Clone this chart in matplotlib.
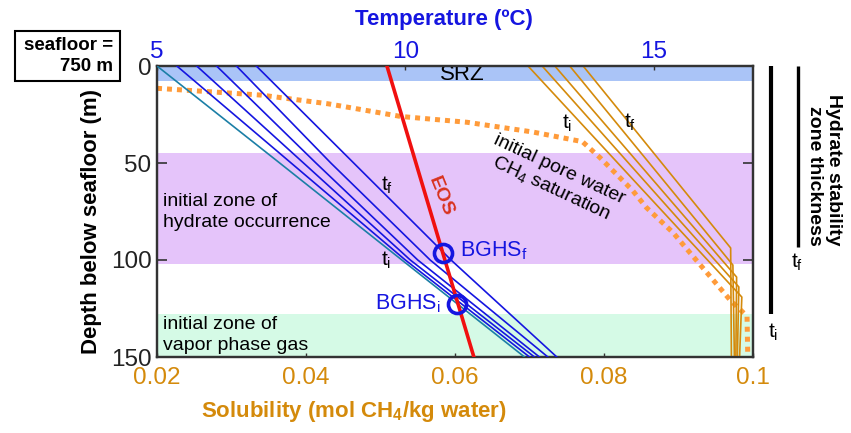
import matplotlib
matplotlib.use('Agg')
import matplotlib.pyplot as plt
from matplotlib.patches import Rectangle

plt.rcParams['font.family'] = ['Liberation Sans', 'DejaVu Sans']
plt.rcParams['mathtext.fontset'] = 'custom'
plt.rcParams['mathtext.rm'] = 'Liberation Sans'
plt.rcParams['mathtext.it'] = 'Liberation Sans:italic'
plt.rcParams['mathtext.bf'] = 'Liberation Sans:bold'

ORANGE = '#d48a0b'
DOT_ORANGE = '#ff9b3a'
BLUE = '#1515e0'
TEAL = '#1b7fa6'
RED = '#f01010'

# ---- data ----
# depth zones (m below seafloor)
srz_zone = (0, 7.8)
hydrate_zone = (45, 102)
vapor_zone = (128, 150)

# temperature profiles (degC) at these depths, t_i first, t_f last
temp_depth = [0, 50, 100, 150]
temp_profiles = [
    [5.0, 7.47, 9.93, 12.40],
    [5.4, 7.70, 10.00, 12.50],
    [5.8, 7.95, 10.10, 12.60],
    [6.2, 8.20, 10.25, 12.70],
    [6.6, 8.50, 10.50, 12.87],
    [7.0, 8.96, 10.92, 13.05],
]

# hydrate stability (EOS) curve
eos_temp = [9.63, 11.38]
eos_depth = [0, 150]

# base of gas hydrate stability
bghs_temp = [10.75, 11.05]
bghs_depth = [96.4, 122.5]

# solubility profiles (mol CH4/kg water), t_f first, t_i last
sol_profiles = [
    ([0.0772, 0.0970, 0.0971], [0, 93.8, 150]),
    ([0.0754, 0.0973, 0.0975], [0, 102.6, 150]),
    ([0.0734, 0.0978, 0.0977], [0, 108.8, 150]),
    ([0.0717, 0.0981, 0.0979], [0, 113.9, 150]),
    ([0.0698, 0.0985, 0.0982], [0, 119.1, 150]),
]

# initial pore water CH4 saturation
sat_sol = [0.0200, 0.0340, 0.0430, 0.0527, 0.0616, 0.0704, 0.0771, 0.0794,
           0.0838, 0.0857, 0.0893, 0.0906, 0.0969, 0.0992, 0.0993]
sat_depth = [11.5, 15.0, 19.5, 26.0, 29.0, 34.0, 39.0, 47.0,
             64.0, 73.0, 86.0, 92.0, 120.5, 129.0, 150.0]

# hydrate stability zone thickness bars
hsz_thick_i = 128
hsz_thick_f = 93.5

sol_ticks = [0.02, 0.04, 0.06, 0.08, 0.1]
sol_ticklabels = ['0.02', '0.04', '0.06', '0.08', '0.1']
temp_ticks = [5, 10, 15]
depth_ticks = [0, 50, 100, 150]

fig = plt.figure(figsize=(8.51, 4.33), dpi=100)
ax = fig.add_axes([157 / 851, 1 - 357 / 433, 596 / 851, 291 / 433])
ax.set_xlim(0.02, 0.1)
ax.set_ylim(150, 0)

ax.axhspan(*srz_zone, color='#aac4f7', lw=0, zorder=0)
ax.axhspan(*hydrate_zone, color='#e5c4fa', lw=0, zorder=0)
ax.axhspan(*vapor_zone, color='#d5fae6', lw=0, zorder=0)

ax.plot(sat_sol, sat_depth, color=DOT_ORANGE, lw=3.6, ls=(0, (1, 1)), zorder=2)
for s, d in sol_profiles:
    ax.plot(s, d, color=ORANGE, lw=1.2, zorder=3)

ax.set_xticks(sol_ticks)
ax.set_xticklabels(sol_ticklabels)
ax.set_yticks(depth_ticks)
ax.tick_params(axis='x', direction='in', length=3, width=1, labelsize=17.5,
               labelcolor=ORANGE, pad=7, color='#333333')
ax.tick_params(axis='y', direction='in', length=7, width=1.2, labelsize=17.5,
               labelcolor='#222222', pad=4, right=True, color='#333333')

ax2 = ax.twiny()
ax2.set_xlim(5, 17)
ax2.set_ylim(150, 0)
for i, prof in enumerate(temp_profiles):
    ax2.plot(prof, temp_depth, color=TEAL if i == 0 else BLUE, lw=1.2, zorder=3)
ax2.plot(eos_temp, eos_depth, color=RED, lw=2.6, zorder=4)
ax2.plot(bghs_temp, bghs_depth, 'o', ms=13, mfc='none', mec=BLUE, mew=2.6, zorder=5)
ax2.set_xticks(temp_ticks)
ax2.tick_params(axis='x', direction='in', length=3, width=1, labelsize=17.5,
                labelcolor=BLUE, pad=2, color='#333333')

for a in (ax, ax2):
    for sp in a.spines.values():
        sp.set_linewidth(1.6)
        sp.set_color('#333333')

# in-plot text
ax.text(0.061, 4.3, 'SRZ', fontsize=16, ha='center', va='center', zorder=6)
ax.text(0.0208, 75.3, 'initial zone of\nhydrate occurrence', fontsize=14,
        ha='left', va='center', linespacing=1.35, zorder=6)
ax.text(0.0208, 138.7, 'initial zone of\nvapor phase gas', fontsize=14,
        ha='left', va='center', linespacing=1.35, zorder=6)
ax.text(0.0509, 61.5, r't$_\mathrm{f}$', fontsize=15, ha='center', va='center', zorder=6)
ax.text(0.0507, 100.0, r't$_\mathrm{i}$', fontsize=15, ha='center', va='center', zorder=6)
ax.text(0.0607, 95.0, r'BGHS$_\mathrm{f}$', fontsize=15.5, color=BLUE,
        ha='left', va='center', zorder=6)
ax.text(0.0580, 122.7, r'BGHS$_\mathrm{i}$', fontsize=15.5, color=BLUE,
        ha='right', va='center', zorder=6)
ax.text(0.0750, 29.4, r't$_\mathrm{i}$', fontsize=15, ha='center', va='center', zorder=6)
ax.text(0.0835, 29.0, r't$_\mathrm{f}$', fontsize=15, ha='center', va='center', zorder=6)
ax.text(0.0734, 58.5, 'initial pore water\nCH$_4$ saturation', fontsize=14,
        ha='center', va='center', rotation=-25, rotation_mode='anchor',
        linespacing=1.1, zorder=6)
ax.text(0.0581, 67.0, 'EOS', fontsize=14, fontweight='bold', color='#d8321e',
        ha='center', va='center', rotation=-68, zorder=6)

# hydrate stability zone thickness bars (right of the axes)
tr = ax.get_yaxis_transform()
ax.plot([1.030, 1.030], [0, hsz_thick_i], color='black', lw=3, transform=tr,
        clip_on=False, solid_capstyle='butt')
ax.plot([1.0755, 1.0755], [0, hsz_thick_f], color='black', lw=2.4, transform=tr,
        clip_on=False, solid_capstyle='butt')
ax.text(1.034, 137.5, r't$_\mathrm{i}$', fontsize=15, ha='center', va='center', transform=tr)
ax.text(1.074, 101.0, r't$_\mathrm{f}$', fontsize=15, ha='center', va='center', transform=tr)
fig.text(824 / 851, 1 - 170 / 433, 'Hydrate stability\nzone thickness', fontsize=14,
         fontweight='bold', rotation=-90, ha='center', va='center',
         multialignment='right', linespacing=1.1)

# axis labels
fig.text(92 / 851, 1 - 222 / 433, 'Depth below seafloor (m)', fontsize=16,
         fontweight='bold', rotation=90, ha='center', va='center')
fig.text(354 / 851, 1 - 412 / 433, r'Solubility (mol CH$_\mathbf{4}$/kg water)',
         fontsize=16, fontweight='bold', color=ORANGE, ha='center', va='center')
fig.text(444 / 851, 1 - 20 / 433, 'Temperature (ºC)', fontsize=16,
         fontweight='bold', color=BLUE, ha='center', va='center')

# seafloor depth box
fig.patches.append(Rectangle((15 / 851, 1 - 81 / 433), 105 / 851, 50 / 433,
                             transform=fig.transFigure, fill=False,
                             edgecolor='black', lw=1.5))
fig.text(113 / 851, 1 - 56 / 433, 'seafloor =\n750 m', fontsize=13.5,
         fontweight='bold', ha='right', va='center', multialignment='right',
         linespacing=1.3)

fig.savefig('out.png', dpi=100)
